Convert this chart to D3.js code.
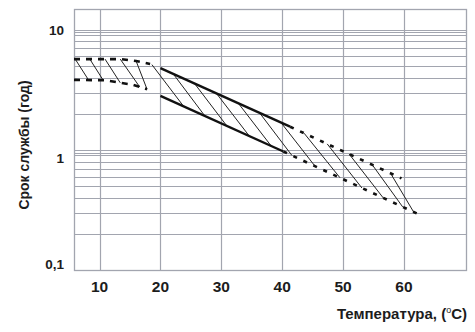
<!DOCTYPE html>
<html>
<head>
<meta charset="utf-8">
<script src="https://cdn.jsdelivr.net/npm/d3@7"></script>
<style>
  body { margin: 0; background: #fff; }
  text { font-family: "Liberation Sans", Arial, sans-serif; font-weight: bold; fill: #1c1c1c; }
</style>
</head>
<body>
<script>
// temperature (°C) vs service life (years)
const xTicks = [10, 20, 30, 40, 50, 60];
const yTicks = [0.1, 1, 10];
const yTickLabels = ['0,1', '1', '10'];
const yGrid = [0.2, 0.3, 0.4, 0.5, 0.6, 0.7, 0.8, 0.9, 0.95, 1, 2, 3, 4, 5, 6, 7, 8, 9, 9.5, 10];

// upper boundary of the band
const upperDashLeftT = [5.8, 13.5, 16, 18.3];
const upperDashLeftL = [5.7, 5.7, 5.5, 5.2];
const upperSolidT = [20, 41.3];
const upperSolidL = [4.8, 1.56];
const upperDashRightT = [41.3, 59.6];
const upperDashRightL = [1.56, 0.58];

// lower boundary of the band
const lowerDashLeftT = [5.8, 11, 13.4, 15.3, 17.8];
const lowerDashLeftL = [3.83, 3.8, 3.62, 3.5, 3.2];
const lowerSolidT = [20, 40.2];
const lowerSolidL = [2.82, 0.97];
const lowerDashRightT = [40.2, 62.4];
const lowerDashRightL = [0.97, 0.291];

// hatching: temperature where each stroke leaves the upper edge / meets the lower edge
const hatchTop =    [6.0, 8.4, 10.9, 13.4, 16.0, 18.6, 22.1, 25.6, 29.2, 32.8, 36.3, 39.8, 43.6, 47.4, 51.0, 54.8, 57.8];
const hatchBottom = [8.2, 10.6, 13.4, 16.6, 17.8, 23.8, 27.3, 30.9, 34.6, 38.2, 41.6, 45.4, 49.5, 53.1, 56.6, 59.8, 61.6];

const W = 475, H = 332;
const margin = {left: 74, top: 9, right: 9, bottom: 62};

const svg = d3.select('body').append('svg')
    .attr('width', W)
    .attr('height', H);

const x = d3.scaleLinear().domain([5.8, 70.2]).range([margin.left, W - margin.right]);
const y = d3.scaleLog().domain([0.1, 14.9]).range([H - margin.bottom, margin.top]);

const gridColour = '#a2a5af';
const grid = svg.append('g');

grid.selectAll('line.h')
    .data(yGrid)
    .enter().append('line')
    .attr('x1', x.range()[0]).attr('x2', x.range()[1])
    .attr('y1', d => Math.round(y(d)) + 0.5).attr('y2', d => Math.round(y(d)) + 0.5)
    .attr('stroke', gridColour).attr('stroke-width', 1);

grid.selectAll('line.v')
    .data(xTicks)
    .enter().append('line')
    .attr('y1', y.range()[0]).attr('y2', y.range()[1])
    .attr('x1', d => Math.round(x(d)) + 0.5).attr('x2', d => Math.round(x(d)) + 0.5)
    .attr('stroke', gridColour).attr('stroke-width', 1.2);

grid.append('rect')
    .attr('x', x.range()[0] + 0.5).attr('y', y.range()[1] + 0.5)
    .attr('width', x.range()[1] - x.range()[0]).attr('height', y.range()[0] - y.range()[1])
    .attr('fill', 'none').attr('stroke', gridColour).attr('stroke-width', 1.3);

// boundary functions, interpolated in log space
const upperT = upperDashLeftT.concat(upperSolidT, upperDashRightT.slice(1));
const upperL = upperDashLeftL.concat(upperSolidL, upperDashRightL.slice(1));
const lowerT = lowerDashLeftT.concat(lowerSolidT, lowerDashRightT.slice(1));
const lowerL = lowerDashLeftL.concat(lowerSolidL, lowerDashRightL.slice(1));
const upperF = d3.scaleLinear().domain(upperT).range(upperL.map(Math.log10)).clamp(true);
const lowerF = d3.scaleLinear().domain(lowerT).range(lowerL.map(Math.log10)).clamp(true);

svg.append('g').selectAll('line')
    .data(d3.zip(hatchTop, hatchBottom))
    .enter().append('line')
    .attr('x1', d => x(d[0])).attr('y1', d => y(10 ** upperF(d[0])))
    .attr('x2', d => x(d[1])).attr('y2', d => y(10 ** lowerF(d[1])))
    .attr('stroke', '#222').attr('stroke-width', 1);

const line = d3.line().x(d => x(d[0])).y(d => y(d[1]));
const curves = [
    {t: upperDashLeftT, l: upperDashLeftL, dash: '6,6'},
    {t: lowerDashLeftT, l: lowerDashLeftL, dash: '6,6'},
    {t: upperSolidT, l: upperSolidL, dash: null},
    {t: lowerSolidT, l: lowerSolidL, dash: null},
    {t: upperDashRightT, l: upperDashRightL, dash: '4,7'},
    {t: lowerDashRightT, l: lowerDashRightL, dash: '4,7'}
];
svg.append('g').selectAll('path')
    .data(curves)
    .enter().append('path')
    .attr('d', c => line(d3.zip(c.t, c.l)))
    .attr('fill', 'none')
    .attr('stroke', '#111')
    .attr('stroke-width', c => c.dash ? 2.6 : 2.4)
    .attr('stroke-dasharray', c => c.dash);

// tick labels
svg.append('g').selectAll('text')
    .data(xTicks)
    .enter().append('text')
    .attr('x', d => x(d)).attr('y', 292)
    .attr('text-anchor', 'middle')
    .style('font-size', '15.5px')
    .text(d => d);

svg.append('g').selectAll('text')
    .data(yTicks)
    .enter().append('text')
    .attr('x', 64)
    .attr('y', (d, i) => i === 0 ? y(d) - 1 : y(d) + 5 + (i === 1 ? 8 : 0))
    .attr('text-anchor', 'end')
    .style('font-size', '13.5px')
    .text((d, i) => yTickLabels[i]);

// axis titles
const xt = svg.append('text')
    .attr('x', 467).attr('y', 319)
    .attr('text-anchor', 'end')
    .style('font-size', '15px');
xt.append('tspan').text('Температура, (');
xt.append('tspan').text('o').attr('dy', -6).style('font-size', '9px').style('font-weight', 'normal');
xt.append('tspan').text('C)').attr('dy', 6);

svg.append('text')
    .attr('transform', 'translate(28.5,145) rotate(-90)')
    .attr('text-anchor', 'middle')
    .style('font-size', '14px')
    .text('Срок службы (год)');
</script>
</body>
</html>
